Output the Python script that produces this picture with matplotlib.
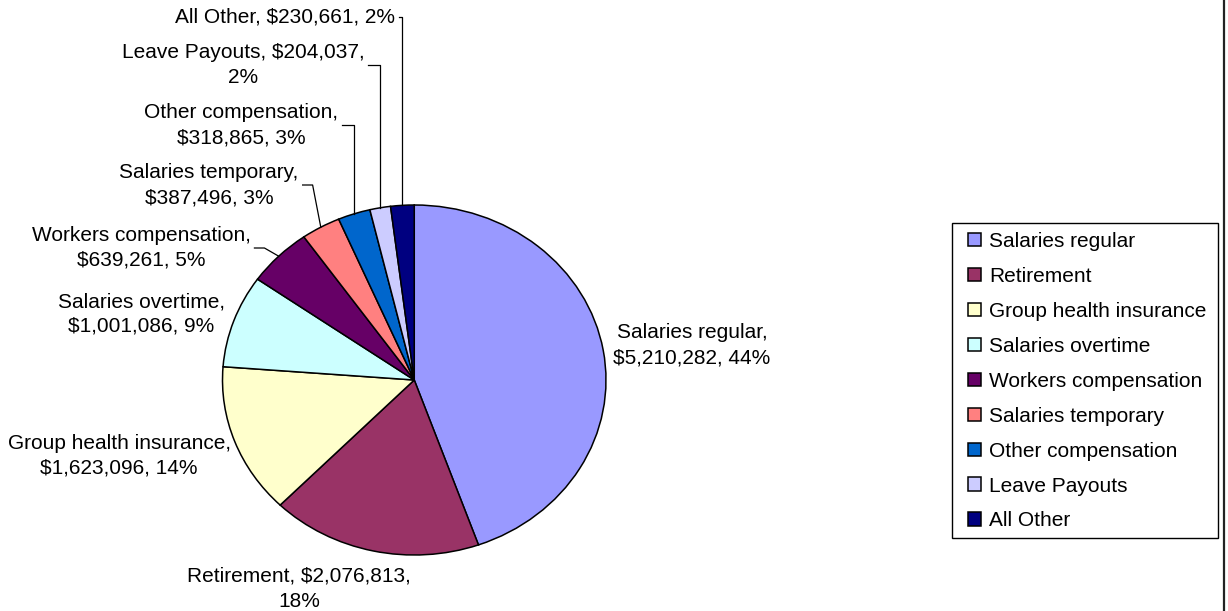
import matplotlib
matplotlib.use('Agg')
import matplotlib.pyplot as plt
from matplotlib.lines import Line2D
from matplotlib.patches import Rectangle
import numpy as np

W, H = 1228, 611  # output size in pixels (dpi 100)

categories = ['Salaries regular', 'Retirement', 'Group health insurance',
              'Salaries overtime', 'Workers compensation', 'Salaries temporary',
              'Other compensation', 'Leave Payouts', 'All Other']
amounts = [5210282, 2076813, 1623096, 1001086, 639261, 387496, 318865, 204037, 230661]
percents = [44, 18, 14, 9, 5, 3, 3, 2, 2]
colors = ['#9999FF', '#993366', '#FFFFCC', '#CCFFFF', '#660066',
          '#FF8080', '#0066CC', '#CCCCFF', '#000080']

# label text layout: centre of text block (px), line break after word n, leader line or not
label_pos = [(692, 345), (299, 589), (119, 456), (141, 314), (141, 248),
             (209, 185), (241, 125), (243, 65), (285, 17)]
label_split = [1, 2, 1, 1, 1, 1, 1, 2, 3]
has_leader = [False, False, False, False, True, True, True, True, True]
elbow_at_pie = [False, False, False, False, False, False, True, True, True]

plt.rcParams['font.family'] = ['Liberation Sans', 'DejaVu Sans']
FS = 15


def fig_xy(x, y):
    return x / W, 1 - y / H


fig = plt.figure(figsize=(W / 100, H / 100), dpi=100)
fig.patch.set_facecolor('white')

# elliptical pie area
left, top, right, bottom = 222.5, 205, 606, 555
ax = fig.add_axes([left / W, 1 - bottom / H, (right - left) / W, (bottom - top) / H])
wedges, _ = ax.pie(amounts, colors=colors, startangle=90, counterclock=False,
                   radius=1, wedgeprops=dict(edgecolor='black', linewidth=1.1))
for w in wedges:
    w.set_clip_on(False)
ax.set_xlim(-1, 1)
ax.set_ylim(-1, 1)
ax.set_aspect('auto')
ax.axis('off')

# data labels
texts = []
for i, cat in enumerate(categories):
    words = [cat + ',', '${:,},'.format(amounts[i]), '{}%'.format(percents[i])]
    n = label_split[i]
    if n >= 3:
        s = ' '.join(words)
    else:
        s = ' '.join(words[:n]) + '\n' + ' '.join(words[n:])
    x, y = label_pos[i]
    t = fig.text(*fig_xy(x, y), s, ha='center', va='center', ma='center',
                 fontsize=FS, linespacing=1.4)
    texts.append(t)

fig.canvas.draw()
renderer = fig.canvas.get_renderer()

# leader lines from label to the middle of the slice edge
for i, w in enumerate(wedges):
    if not has_leader[i]:
        continue
    bb = texts[i].get_window_extent(renderer)
    sx, sy = bb.x1 + 4, (bb.y0 + bb.y1) / 2
    mid = np.deg2rad((w.theta1 + w.theta2) / 2)
    px_, py_ = ax.transData.transform((np.cos(mid), np.sin(mid)))
    ex = px_ if elbow_at_pie[i] else sx + 10
    xs = np.array([sx, ex, px_]) / W
    ys = np.array([sy, sy, py_]) / H
    fig.add_artist(Line2D(xs, ys, color='black', linewidth=0.9))

# legend, with its box drawn separately
leg = fig.legend(wedges, categories, loc='upper left',
                 bbox_to_anchor=fig_xy(968, 232), borderaxespad=0, borderpad=0,
                 fontsize=FS, frameon=False,
                 handlelength=0.62, handleheight=0.62, handletextpad=0.4,
                 labelspacing=0.765)
fig.add_artist(Rectangle(fig_xy(952, 538), (1218 - 952) / W, (538 - 223) / H,
                         transform=fig.transFigure, fill=False,
                         edgecolor='black', linewidth=1.0))

# right edge border
fig.add_artist(Line2D([1223.5 / W, 1223.5 / W], [0, 1], color='#222222', linewidth=1.6))

fig.savefig('out.png', dpi=100)
